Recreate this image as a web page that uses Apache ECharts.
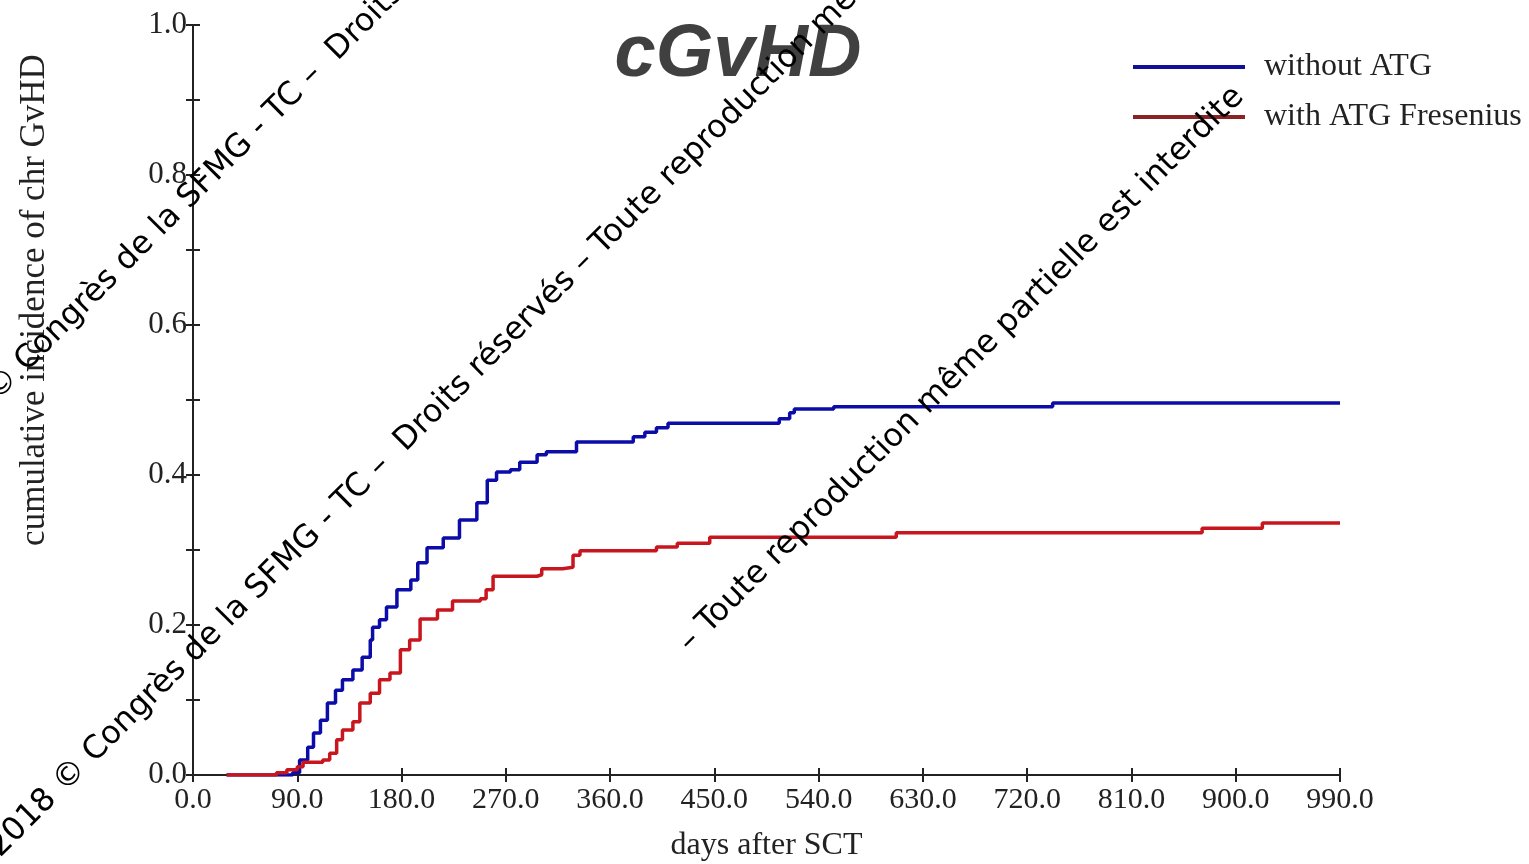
<!DOCTYPE html>
<html>
<head>
<meta charset="utf-8">
<script src="https://cdn.jsdelivr.net/npm/echarts@6/dist/echarts.min.js"></script>
<style>
  html, body { margin: 0; padding: 0; background: #fff; }
  #chart { width: 1529px; height: 864px; }
</style>
</head>
<body>
<div id="chart"></div>
<script>
// cumulative incidence (days, value)
var seriesNames = ["without ATG", "with ATG Fresenius"]

var blueDays = [29, 86, 92, 99, 104, 110, 116, 123, 129, 138, 146, 153, 155, 161, 167, 176, 188, 194, 202, 216, 230, 245, 254, 262, 274, 282, 297, 305, 331, 380, 390, 400, 410, 506, 515, 519, 553, 742, 990]
var blueVals = [0, 0.003, 0.02, 0.037, 0.056, 0.073, 0.096, 0.113, 0.127, 0.14, 0.157, 0.18, 0.197, 0.207, 0.224, 0.247, 0.26, 0.283, 0.303, 0.316, 0.34, 0.363, 0.393, 0.404, 0.407, 0.417, 0.427, 0.431, 0.444, 0.451, 0.457, 0.463, 0.469, 0.475, 0.483, 0.488, 0.491, 0.496, 0.496]

var redDays = [29, 72, 81, 90, 95, 112, 118, 124, 129, 138, 144, 153, 161, 170, 179, 187, 196, 211, 224, 248, 253, 259, 297, 301, 319, 328, 334, 394, 400, 418, 446, 604, 607, 866, 871, 921, 923, 990]
var redVals = [0, 0.003, 0.007, 0.011, 0.017, 0.02, 0.029, 0.047, 0.06, 0.071, 0.096, 0.109, 0.127, 0.136, 0.167, 0.18, 0.208, 0.22, 0.232, 0.235, 0.247, 0.265, 0.267, 0.275, 0.277, 0.293, 0.299, 0.299, 0.304, 0.309, 0.317, 0.317, 0.323, 0.323, 0.329, 0.329, 0.336, 0.336]

var watermark = "2018 © Congrès de la SFMG - TC –  Droits réservés – Toute reproduction même partielle est interdite"
var watermarkEnd = "– Toute reproduction même partielle est interdite"

var chart = echarts.init(document.getElementById("chart"))

function pairs(xs, ys) {
    return xs.map(function (x, i) { return [x, ys[i]] })
}

var serif = '"Liberation Serif", "Times New Roman", serif'
var wmFont = '32px "DejaVu Sans", Verdana, sans-serif'

var option = {
    animation: false,
    backgroundColor: "#fff",
    title: {
        text: "cGvHD",
        left: 733,
        top: 14,
        textAlign: "center",
        textStyle: {
            fontFamily: '"Liberation Sans", Arial, sans-serif',
            fontSize: 74,
            fontWeight: "bold",
            fontStyle: "italic",
            color: "#404040"
        }
    },
    legend: {
        orient: "vertical",
        left: 1128,
        top: 44,
        icon: "rect",
        itemWidth: 112,
        itemHeight: 4,
        itemGap: 14,
        data: [
            { name: seriesNames[0], itemStyle: { color: "#10109a" } },
            { name: seriesNames[1], itemStyle: { color: "#8a2424" } }
        ],
        textStyle: {
            fontFamily: serif,
            fontSize: 32,
            lineHeight: 36,
            color: "#222",
            padding: [0, 0, 0, 14]
        }
    },
    grid: { left: 193, right: 189, top: 25, bottom: 89, containLabel: false, outerBoundsMode: "none" },
    xAxis: [{
        type: "value",
        min: 0,
        max: 990,
        interval: 90,
        name: "days after SCT",
        nameLocation: "middle",
        nameGap: 55,
        nameTextStyle: { fontFamily: serif, fontSize: 32, color: "#222" },
        axisLine: { lineStyle: { color: "#222", width: 2 } },
        axisTick: { length: 7, lineStyle: { color: "#222", width: 2 } },
        axisLabel: {
            margin: 10,
            fontFamily: serif,
            fontSize: 30,
            color: "#222",
            formatter: function (v) { return v.toFixed(1) }
        },
        splitLine: { show: false }
    }, {
        type: "value",
        position: "bottom",
        min: 0,
        max: 990,
        interval: 90,
        axisLine: { show: false },
        axisTick: { inside: true, length: 7, lineStyle: { color: "#222", width: 2 } },
        axisLabel: { show: false },
        splitLine: { show: false }
    }],
    yAxis: [{
        type: "value",
        min: 0,
        max: 1,
        interval: 0.1,
        axisLine: { show: true, lineStyle: { color: "#222", width: 2 } },
        axisTick: { show: true, length: 7, lineStyle: { color: "#222", width: 2 } },
        axisLabel: {
            margin: 6,
            fontFamily: serif,
            fontSize: 31,
            color: "#222",
            formatter: function (v) {
                return Math.round(v * 10) % 2 === 0 ? v.toFixed(1) : ""
            }
        },
        splitLine: { show: false }
    }, {
        type: "value",
        position: "left",
        min: 0,
        max: 1,
        interval: 0.1,
        axisLine: { show: false },
        axisTick: { show: true, inside: true, length: 7, lineStyle: { color: "#222", width: 2 } },
        axisLabel: { show: false },
        splitLine: { show: false }
    }],
    series: [{
        name: seriesNames[0],
        type: "line",
        step: "end",
        symbol: "none",
        data: pairs(blueDays, blueVals),
        itemStyle: { color: "#0c0ca8" },
        lineStyle: { color: "#0c0ca8", width: 3.5 }
    }, {
        name: seriesNames[1],
        type: "line",
        step: "end",
        symbol: "none",
        data: pairs(redDays, redVals),
        itemStyle: { color: "#c8161e" },
        lineStyle: { color: "#c8161e", width: 3.5 }
    }],
    graphic: [{
        type: "text",
        x: 35,
        y: 300,
        rotation: Math.PI / 2,
        style: {
            text: "cumulative incidence of chr GvHD",
            font: "35px " + serif,
            fill: "#222",
            textAlign: "center",
            textVerticalAlign: "middle"
        }
    }, {
        type: "text",
        x: -74,
        y: 461,
        rotation: Math.PI / 4,
        z: 100,
        style: { text: watermark, font: wmFont, fill: "#000", textAlign: "left", textVerticalAlign: "middle" }
    }, {
        type: "text",
        x: -6,
        y: 852,
        rotation: Math.PI / 4,
        z: 100,
        style: { text: watermark, font: wmFont, fill: "#000", textAlign: "left", textVerticalAlign: "middle" }
    }, {
        type: "text",
        x: 684,
        y: 647,
        rotation: Math.PI / 4,
        z: 100,
        style: { text: watermarkEnd, font: wmFont, fill: "#000", textAlign: "left", textVerticalAlign: "middle" }
    }]
}

chart.setOption(option)
</script>
</body>
</html>
